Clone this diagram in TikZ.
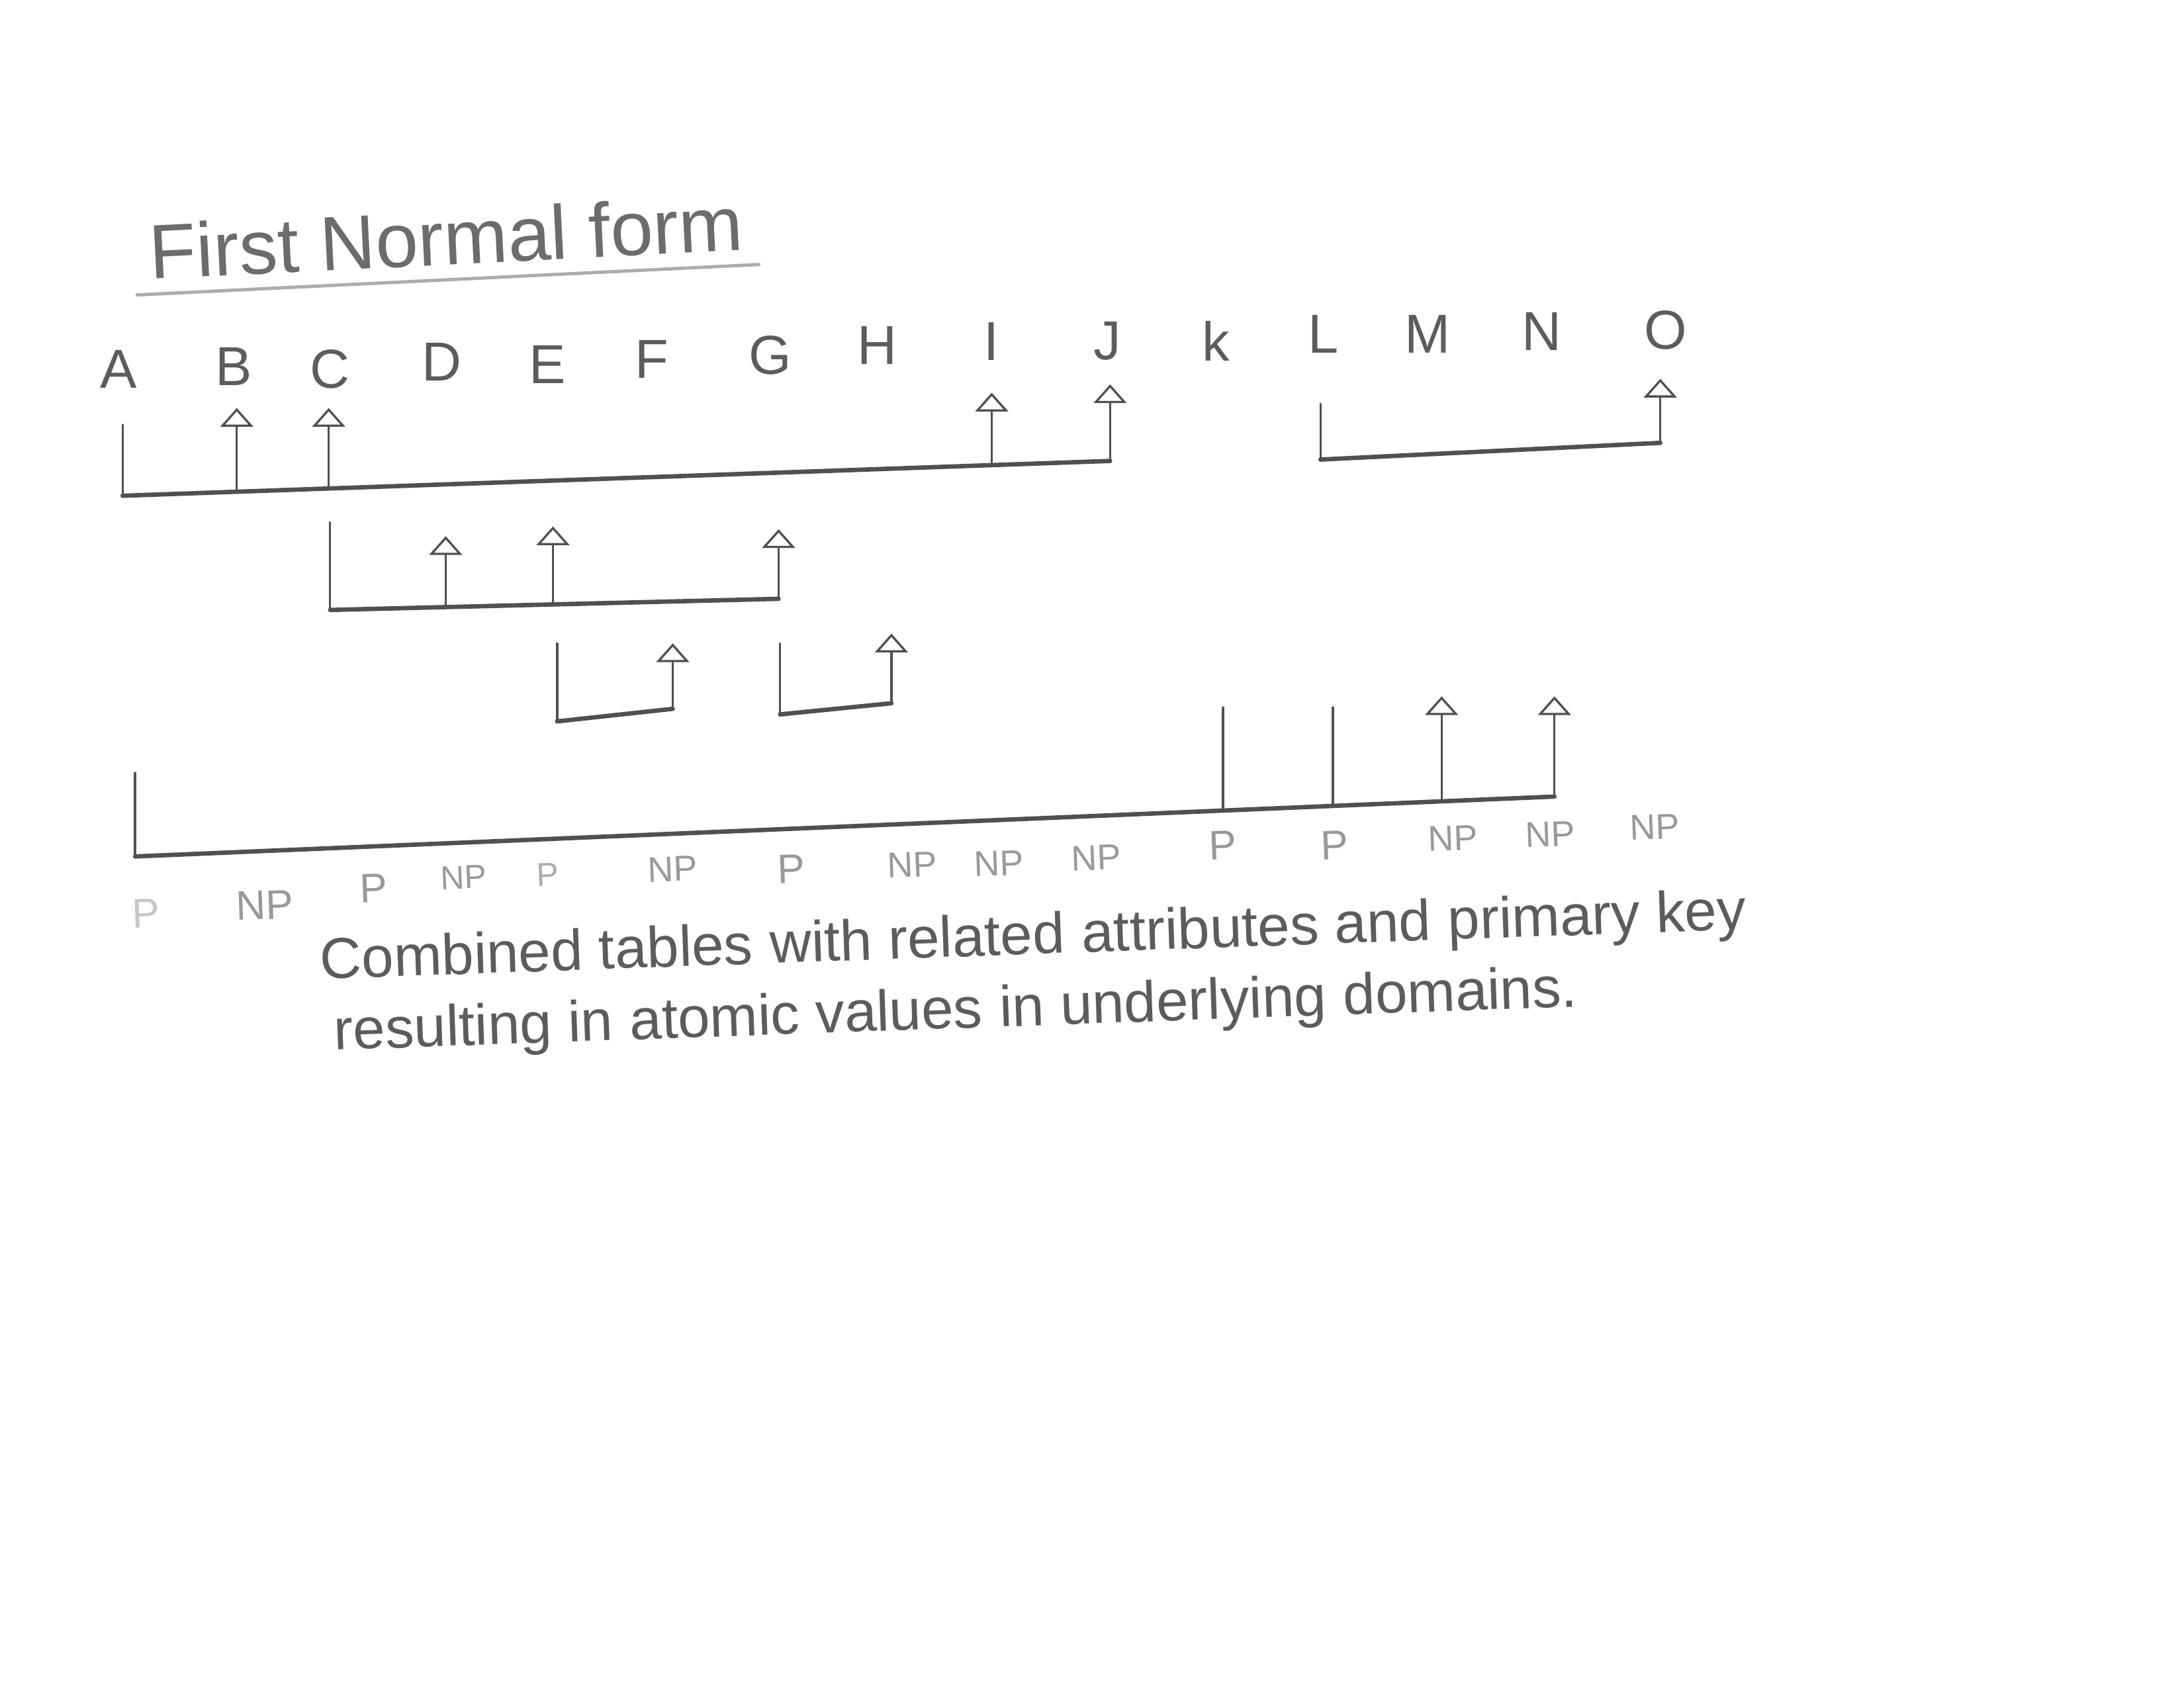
\documentclass[tikz,border=0pt]{standalone}
\usepackage{fontspec}
\setmainfont{Liberation Sans}
\usetikzlibrary{arrows.meta,positioning}
\definecolor{lead}{HTML}{505050}
\definecolor{pencil}{HTML}{5C5C5C}
\begin{document}
\begin{tikzpicture}[x=0.01782cm, y=-0.01782cm, > = {Triangle[open, length=2.4mm, width=4.2mm]}, line cap=round, line join=round]
    \tikzstyle{attr}=[text=pencil, font=\fontsize{20}{24}\selectfont, inner sep=1pt]
    \tikzstyle{key}=[text=gray!80, font=\fontsize{15}{17}\selectfont, inner sep=0pt, rotate=2]
    \tikzstyle{note}=[text=pencil, font=\fontsize{21}{25}\selectfont, anchor=base west, inner sep=0pt]
    \tikzstyle{dep}=[draw=lead, line width=0.8pt]
    \tikzstyle{base}=[draw=lead, line width=1.6pt]

    \fill[white] (0,0) rectangle (1568,1212);
    \useasboundingbox (0,0) rectangle (1568,1212);

    % Titulo
    \node[text=pencil!90, font=\fontsize{28}{32}\selectfont, anchor=base west, inner sep=5pt, rotate=2.8] (title) at (98,201) {First Normal form};
    \draw[line width=1.2pt, gray!65] (title.south west) -- (title.south east);

    % Atributos
    \node[attr] (a) at (85,265) {A};
    \node[attr] (b) at (168,263) {B};
    \node[attr] (c) at (237,265) {C};
    \node[attr] (d) at (317,260) {D};
    \node[attr] (e) at (393,262) {E};
    \node[attr] (f) at (468,258) {F};
    \node[attr] (g) at (553,255) {G};
    \node[attr] (h) at (630,248) {H};
    \node[attr] (i) at (712,245) {I};
    \node[attr] (j) at (795,245) {J};
    \node[attr] (k) at (873,245) {k};
    \node[attr] (l) at (950,240) {L};
    \node[attr] (m) at (1025,240) {M};
    \node[attr] (n) at (1107,238) {N};
    \node[attr] (o) at (1196,237) {O};

    % A,C -> B,I,J
    \coordinate (a1) at (88,305);
    \coordinate (g1l) at (88,356);
    \coordinate (g1r) at (797,331);
    \coordinate (g1b) at (170,353);
    \coordinate (g1c) at (236,351);
    \coordinate (g1i) at (712,334);
    \coordinate (b1) at (170,293);
    \coordinate (c1) at (236,293);
    \coordinate (i1) at (712,282);
    \coordinate (j1) at (797,276);
    \draw[dep] (a1) -- (g1l);
    \draw[base] (g1l) -- (g1r);
    \draw[dep,->] (g1b) -- (b1);
    \draw[dep,->] (g1c) -- (c1);
    \draw[dep,->] (g1i) -- (i1);
    \draw[dep,->] (g1r) -- (j1);

    % L -> O
    \coordinate (l1) at (948,290);
    \coordinate (g2l) at (948,330);
    \coordinate (g2r) at (1192,318);
    \coordinate (o1) at (1192,272);
    \draw[dep] (l1) -- (g2l);
    \draw[base] (g2l) -- (g2r);
    \draw[dep,->] (g2r) -- (o1);

    % C -> D,E,G
    \coordinate (c2) at (237,375);
    \coordinate (g3l) at (237,438);
    \coordinate (g3r) at (559,430);
    \coordinate (g3d) at (320,436);
    \coordinate (g3e) at (397,434);
    \coordinate (d2) at (320,385);
    \coordinate (e2) at (397,378);
    \coordinate (g2) at (559,380);
    \draw[dep] (c2) -- (g3l);
    \draw[base] (g3l) -- (g3r);
    \draw[dep,->] (g3d) -- (d2);
    \draw[dep,->] (g3e) -- (e2);
    \draw[dep,->] (g3r) -- (g2);

    % E -> F
    \coordinate (e3) at (400,462);
    \coordinate (g4l) at (400,518);
    \coordinate (g4r) at (483,509);
    \coordinate (f3) at (483,462);
    \draw[dep] (e3) -- (g4l);
    \draw[base] (g4l) -- (g4r);
    \draw[dep,->] (g4r) -- (f3);

    % G -> H
    \coordinate (g5) at (560,462);
    \coordinate (g5l) at (560,513);
    \coordinate (g5r) at (640,505);
    \coordinate (h5) at (640,455);
    \draw[dep] (g5) -- (g5l);
    \draw[base] (g5l) -- (g5r);
    \draw[dep,->] (g5r) -- (h5);

    % A,K,L -> M,N
    \coordinate (a6) at (97,555);
    \coordinate (g6l) at (97,615);
    \coordinate (g6r) at (1116,572);
    \coordinate (g6k) at (878,582);
    \coordinate (g6l2) at (957,579);
    \coordinate (g6m) at (1035,575);
    \coordinate (k6) at (878,508);
    \coordinate (l6) at (957,508);
    \coordinate (m6) at (1035,500);
    \coordinate (n6) at (1116,500);
    \draw[dep] (a6) -- (g6l);
    \draw[base] (g6l) -- (g6r);
    \draw[dep] (k6) -- (g6k);
    \draw[dep] (l6) -- (g6l2);
    \draw[dep,->] (g6m) -- (m6);
    \draw[dep,->] (g6r) -- (n6);

    % P / NP
    \node[key, text=gray!45] (pa) at (105,656) {P};
    \node[key] (pb) at (190,650) {NP};
    \node[key] (pc) at (268,638) {P};
    \node[key, font=\fontsize{12}{14}\selectfont] (pd) at (333,630) {NP};
    \node[key, font=\fontsize{12}{14}\selectfont, text=gray!65] (pe) at (393,628) {P};
    \node[key, font=\fontsize{13}{15}\selectfont] (pf) at (483,624) {NP};
    \node[key] (pg) at (568,624) {P};
    \node[key, font=\fontsize{13}{15}\selectfont] (ph) at (655,621) {NP};
    \node[key, font=\fontsize{13}{15}\selectfont] (pi) at (717,620) {NP};
    \node[key, font=\fontsize{13}{15}\selectfont] (pj) at (787,616) {NP};
    \node[key] (pk) at (878,607) {P};
    \node[key] (pl) at (958,607) {P};
    \node[key, font=\fontsize{13}{15}\selectfont] (pm) at (1043,602) {NP};
    \node[key, font=\fontsize{13}{15}\selectfont] (pn) at (1113,599) {NP};
    \node[key, font=\fontsize{13}{15}\selectfont] (po) at (1188,594) {NP};

    % Texto
    \begin{scope}[shift={(230,703)}, rotate=2, transform shape, node distance=5.8pt]
        \node[note] (t1) at (0,0) {Combined tables};
        \node[note, base right=of t1] (t2) {with related};
        \node[note, base right=of t2] (t3) {attributes and};
        \node[note, base right=of t3] (t4) {primary key};
    \end{scope}
    \begin{scope}[shift={(240,754)}, rotate=2, transform shape, node distance=5.8pt]
        \node[note] (r1) at (0,0) {resulting in};
        \node[note, base right=of r1] (r2) {atomic values};
        \node[note, base right=of r2] (r3) {in underlying};
        \node[note, base right=of r3] (r4) {domains.};
    \end{scope}
\end{tikzpicture}
\end{document}
